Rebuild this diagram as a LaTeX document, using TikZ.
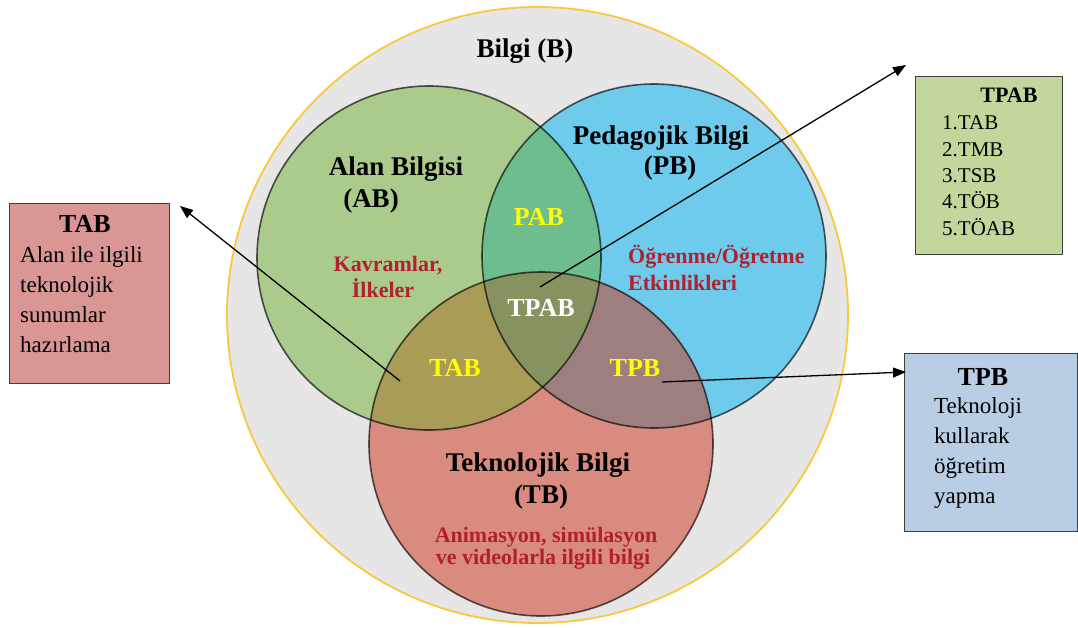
\documentclass[tikz,border=0pt]{standalone}
\usepackage{fontspec}
\setmainfont{Liberation Serif}
\usetikzlibrary{arrows.meta,shapes.geometric}

\definecolor{bggray}{HTML}{E6E6E6}
\definecolor{goldline}{HTML}{F9C83C}
\definecolor{abfill}{HTML}{AACB8B}
\definecolor{pbfill}{HTML}{6ECBEB}
\definecolor{tbfill}{HTML}{DA8B80}
\definecolor{pabfill}{HTML}{6DBD8E}
\definecolor{tabfill}{HTML}{A89C56}
\definecolor{tpbfill}{HTML}{9E7F80}
\definecolor{tpabfill}{HTML}{86925F}
\definecolor{darkred}{HTML}{B0202E}
\definecolor{labelyellow}{HTML}{FFFF00}
\definecolor{tabbox}{HTML}{D99694}
\definecolor{tpabbox}{HTML}{C3D69B}
\definecolor{tpbbox}{HTML}{B9CDE5}

\begin{document}
\begin{tikzpicture}[x=1pt,y=-1pt,
  ring/.style={circle, minimum size=344pt, inner sep=0pt, draw=black, draw opacity=0.65, line width=1.6pt},
  title/.style={font=\fontsize{27}{30}\selectfont\bfseries, inner sep=0pt, anchor=base},
  region/.style={font=\fontsize{26}{30}\selectfont\bfseries, inner sep=0pt, anchor=base},
  example/.style={font=\fontsize{22}{26}\selectfont\bfseries, text=darkred, inner sep=0pt},
  infobox/.style={draw=black!75, line width=1.4pt, anchor=north west, inner sep=0pt},
  boxhead/.style={font=\fontsize{26}{30}\selectfont\bfseries, inner sep=0pt, anchor=base},
  boxline/.style={font=\fontsize{23}{30}\selectfont, inner sep=0pt, anchor=base west},
  link/.style={line width=1.3pt, -{Triangle[length=13pt,width=10pt]}}]
\useasboundingbox (0,0) rectangle (1078,628);
\fill[white] (0,0) rectangle (1078,628);

% outer set: Bilgi
\node[ellipse, minimum width=621pt, minimum height=616pt, inner sep=0pt, fill=bggray, draw=goldline, line width=1.8pt] (B) at (537.5,315) {};

% circle centres
\coordinate (cA) at (429,258);
\coordinate (cP) at (654,256);
\coordinate (cT) at (541,444);

% base fills
\fill[abfill] (cA) circle (172pt);
\fill[pbfill] (cP) circle (172pt);
\fill[tbfill] (cT) circle (172pt);

% pairwise overlaps
\begin{scope}
  \clip (cA) circle (172pt);
  \fill[pabfill] (cP) circle (172pt);
  \fill[tabfill] (cT) circle (172pt);
\end{scope}
\begin{scope}
  \clip (cP) circle (172pt);
  \fill[tpbfill] (cT) circle (172pt);
\end{scope}
% triple overlap
\begin{scope}
  \clip (cA) circle (172pt);
  \clip (cP) circle (172pt);
  \fill[tpabfill] (cT) circle (172pt);
\end{scope}

% outlines
\node[ring] (AB) at (cA) {};
\node[ring] (PB) at (cP) {};
\node[ring] (TB) at (cT) {};

% set titles
\node[title] (bilgi) at (525,58) {Bilgi (B)};
\node[title] (abname) at (396,176) {Alan Bilgisi};
\node[title] (abshort) at (371,208) {(AB)};
\node[title] (pbname) at (661,145) {Pedagojik Bilgi};
\node[title] (pbshort) at (670,175) {(PB)};
\node[title] (tbname) at (538,471) {Teknolojik Bilgi};
\node[title] (tbshort) at (541,503) {(TB)};

% examples
\node[example, anchor=base] (kav) at (388,272) {Kavramlar,};
\node[example, anchor=base] (ilk) at (383,297) {İlkeler};
\node[example, anchor=base west] (ogr) at (628,264) {Öğrenme/Öğretme};
\node[example, anchor=base west] (etk) at (628,290) {Etkinlikleri};
\node[example, anchor=base] (ani) at (546,542) {Animasyon, simülasyon};
\node[example, anchor=base] (vid) at (543,564) {ve videolarla ilgili bilgi};

% intersection labels
\node[region, text=labelyellow] (pab) at (539,226) {PAB};
\node[region, text=white] (tpab) at (541,316) {TPAB};
\node[region, text=labelyellow] (tab) at (455,376) {TAB};
\node[region, text=labelyellow] (tpb) at (635,376) {TPB};

% explanation boxes
\node[infobox, fill=tabbox, minimum width=160pt, minimum height=180pt] (tabinfo) at (9,203) {};
\node[boxhead] (tabhead) at (85,233) {TAB};
\foreach \t [count=\i] in {Alan ile ilgili, teknolojik, sunumlar, hazırlama}
  \node[boxline] (tabl\i) at (20,{262+30*(\i-1)}) {\t};

\node[infobox, fill=tpabbox, minimum width=147pt, minimum height=178pt] (tpabinfo) at (915,76) {};
\node[boxhead, font=\fontsize{22}{26}\selectfont\bfseries] (tpabhead) at (1009,103) {TPAB};
\foreach \t [count=\i] in {1.TAB, 2.TMB, 3.TSB, 4.TÖB, 5.TÖAB}
  \node[boxline, font=\fontsize{21}{26}\selectfont] (tpabl\i) at (942,{130+26.3*(\i-1)}) {\t};

\node[infobox, fill=tpbbox, minimum width=173pt, minimum height=178pt] (tpbinfo) at (904,353) {};
\node[boxhead] (tpbhead) at (983,385) {TPB};
\foreach \t [count=\i] in {Teknoloji, kullarak, öğretim, yapma}
  \node[boxline] (tpbl\i) at (934,{413+30*(\i-1)}) {\t};

% connectors
\coordinate (tabfrom) at (400,381);
\coordinate (tabto) at (180,206);
\coordinate (tpabfrom) at (540,287);
\coordinate (tpabto) at (906,65);
\coordinate (tpbfrom) at (662,382);
\coordinate (tpbto) at (906,372);
\draw[link] (tabfrom) -- (tabto);
\draw[link] (tpabfrom) -- (tpabto);
\draw[link] (tpbfrom) -- (tpbto);
\end{tikzpicture}
\end{document}
